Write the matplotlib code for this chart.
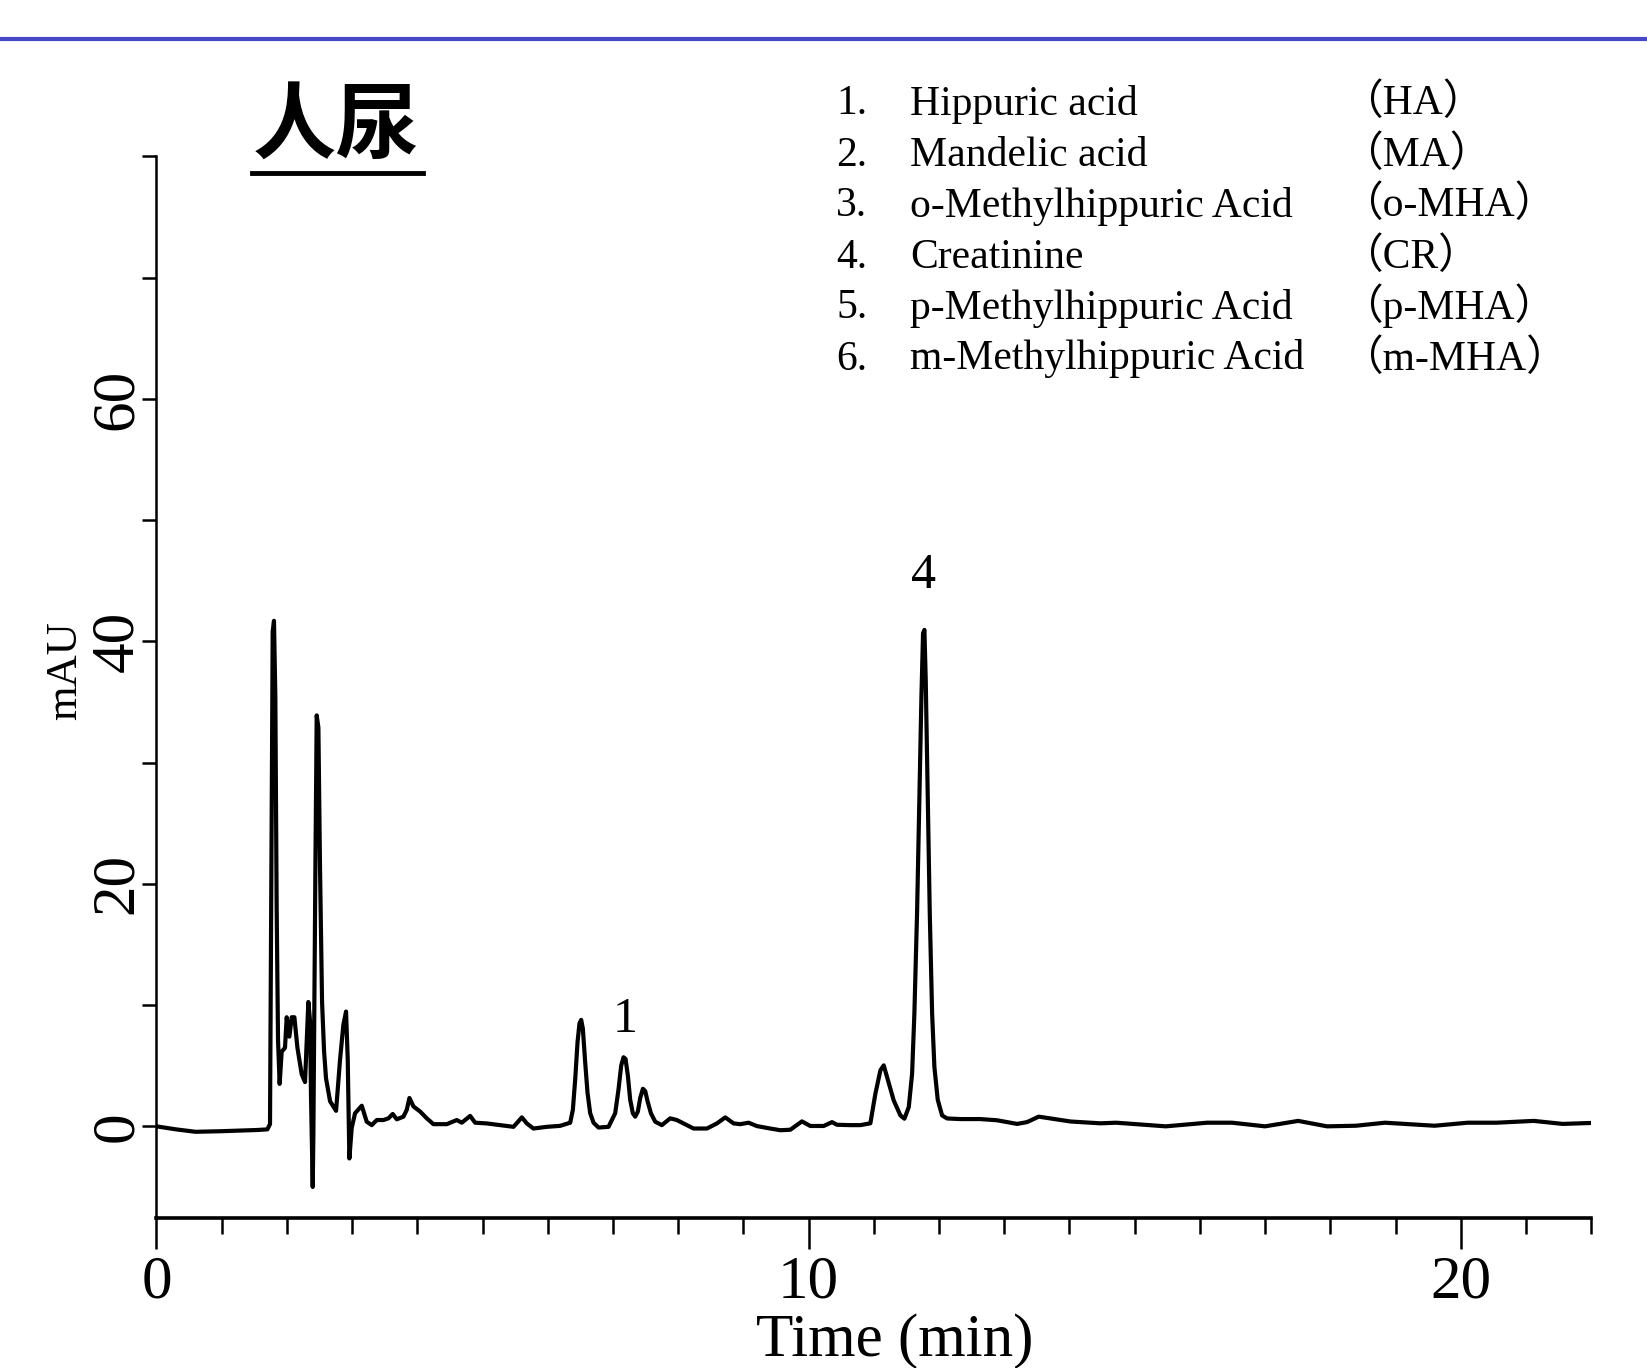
import matplotlib
matplotlib.use('Agg')
import matplotlib.pyplot as plt
from matplotlib.lines import Line2D

# chromatogram trace (min, mAU)
time_min = [0.0, 0.3, 0.6, 1.0, 1.3, 1.55, 1.70, 1.741, 1.762, 1.782, 1.802, 1.823, 1.843, 1.864, 1.889,
            1.920, 1.971, 1.997, 2.038, 2.074, 2.115, 2.161, 2.227, 2.278, 2.329, 2.355, 2.370, 2.396, 2.406,
            2.437, 2.457, 2.483, 2.508, 2.539, 2.570, 2.600, 2.662, 2.754, 2.815, 2.866, 2.907, 2.933, 2.958,
            2.994, 3.045, 3.148, 3.224, 3.301, 3.378, 3.480, 3.557, 3.623, 3.685, 3.787, 3.838, 3.879, 3.941,
            4.043, 4.145, 4.247, 4.452, 4.605, 4.682, 4.810, 4.887, 5.066, 5.270, 5.475, 5.603, 5.679, 5.781,
            5.986, 6.190, 6.344, 6.385, 6.421, 6.457, 6.487, 6.513, 6.538, 6.574, 6.610, 6.651, 6.702, 6.779,
            6.932, 7.034, 7.085, 7.126, 7.162, 7.193, 7.229, 7.264, 7.305, 7.341, 7.382, 7.418, 7.459, 7.495,
            7.531, 7.582, 7.648, 7.750, 7.878, 7.980, 8.083, 8.236, 8.441, 8.594, 8.722, 8.850, 8.952, 9.080,
            9.208, 9.412, 9.566, 9.72, 9.898, 10.026, 10.231, 10.359, 10.435, 10.64, 10.794, 10.947, 11.024,
            11.101, 11.152, 11.203, 11.305, 11.408, 11.469, 11.536, 11.587, 11.622, 11.663, 11.694, 11.730,
            11.755, 11.776, 11.796, 11.827, 11.858, 11.894, 11.929, 11.980, 12.047, 12.124, 12.328, 12.634,
            12.89, 13.197, 13.35, 13.529, 13.708, 14.015, 14.475, 14.717, 15.477, 16.111, 16.492, 16.999,
            17.507, 17.95, 18.393, 18.838, 19.599, 20.106, 20.55, 21.12, 21.564, 22.0]
signal_mau = [0.0, -0.25, -0.45, -0.4, -0.35, -0.3, -0.25, 0.18, 21.3, 40.8, 41.7, 35.4, 18.1, 7.1, 3.5,
              6.16, 6.48, 9.0, 7.4, 9.0, 9.0, 6.5, 4.3, 3.65, 10.26, 8.7, 2.4, -5.0, -0.76,
              21.3, 33.9, 32.9, 21.3, 10.3, 6.2, 3.96, 2.07, 1.28, 5.5, 8.37, 9.47, 5.5, -2.65,
              -0.13, 1.08, 1.70, 0.38, 0.1, 0.52, 0.52, 0.66, 1.02, 0.58, 0.8, 1.36, 2.34, 1.64,
              1.22, 0.66, 0.18, 0.18, 0.52, 0.3, 0.86, 0.3, 0.24, 0.1, -0.04, 0.74, 0.24, -0.18,
              -0.04, 0.04, 0.3, 1.36, 3.88, 6.96, 8.5, 8.78, 8.08, 5.28, 2.76, 1.08, 0.3, -0.1,
              -0.04, 1.08, 3.04, 5.0, 5.7, 5.56, 4.16, 2.2, 1.08, 0.8, 1.22, 2.34, 3.1, 2.9,
              2.06, 1.08, 0.38, 0.1, 0.66, 0.52, 0.24, -0.18, -0.18, 0.24, 0.74, 0.24, 0.18, 0.3,
              0.02, -0.18, -0.32, -0.28, 0.41, 0.03, 0.03, 0.35, 0.13, 0.10, 0.1, 0.25, 2.69,
              4.62, 5.03, 4.07, 2.14, 0.9, 0.63, 1.59, 4.34, 9.3, 17.56, 25.8, 35.45,
              40.68, 40.95, 36.83, 27.19, 17.56, 9.3, 4.89, 2.2, 0.9, 0.65, 0.6, 0.6,
              0.5, 0.2, 0.35, 0.8, 0.65, 0.4, 0.25, 0.3, 0.0, 0.3, 0.3, 0.0,
              0.45, 0.0, 0.05, 0.3, 0.05, 0.3, 0.3, 0.45, 0.2, 0.28]

peak_labels = ['1', '4']
peak_label_t = [7.19, 11.765]
peak_label_v = [8.8, 45.4]

x_major = [0, 10, 20]
y_major = [0, 20, 40, 60]
y_minor = [10, 30, 50, 70, 80]

compound_nums = ['1.', '2.', '3.', '4.', '5.', '6.']
compound_names = ['Hippuric acid', 'Mandelic acid', 'o-Methylhippuric Acid', 'Creatinine',
                  'p-Methylhippuric Acid', 'm-Methylhippuric Acid']
compound_abbr = ['（HA）', '（MA）', '（o-MHA）', '（CR）', '（p-MHA）', '（m-MHA）']

serif = ['Liberation Serif', 'Noto Sans CJK SC']

fig = plt.figure(figsize=(16.47, 13.68), dpi=100)
ax = fig.add_axes([0.0950, 0.1093, 0.8711, 0.7763])

ax.plot(time_min, signal_mau, color='black', lw=3.0, solid_joinstyle='round')
ax.set_xlim(0, 22)
ax.set_ylim(-7.6, 80)

for s in ['top', 'right']:
    ax.spines[s].set_visible(False)
ax.spines['left'].set_linewidth(1.8)
ax.spines['bottom'].set_linewidth(2.6)

ax.set_xticks(x_major)
ax.set_xticks(range(0, 23), minor=True)
ax.set_xticklabels([str(v) for v in x_major], family=serif, fontsize=44)
ax.tick_params(axis='x', which='major', direction='out', length=22, width=1.8, pad=4)
ax.tick_params(axis='x', which='minor', direction='out', length=11.5, width=1.8)

ax.set_yticks(y_major)
ax.set_yticks(y_minor, minor=True)
ax.set_yticklabels([str(v) for v in y_major], family=serif, fontsize=44, rotation=90, va='center')
ax.tick_params(axis='y', which='both', direction='out', length=10, width=1.8, pad=-2)

for lab, t, v in zip(peak_labels, peak_label_t, peak_label_v):
    ax.text(t, v, lab, family=serif, fontsize=36, ha='center', va='center')

fig.text(0.0395, 0.510, 'mAU', family=serif, fontsize=32, rotation=90, ha='center', va='center')
fig.text(0.543, 0.009, 'Time (min)', family=serif, fontsize=44, ha='center', va='baseline')

# title with underline
fig.text(0.204, 0.907, '人尿', family=['Noto Sans CJK SC', 'DejaVu Sans'], fontsize=60,
         weight='bold', ha='center', va='center')
fig.add_artist(Line2D([0.153, 0.257], [0.8735, 0.8735], color='black', lw=3.5))

# blue rule across the top
fig.add_artist(Line2D([0, 1], [0.9715, 0.9715], color='#4848c8', lw=3))

# compound list
row_y = [114.5, 165.5, 216.5, 267.5, 318.5, 369.5]
for i in range(len(compound_names)):
    y = 1 - row_y[i] / 1368
    fig.text(0.5076, y, compound_nums[i], family=serif, fontsize=30, va='baseline')
    fig.text(0.5525, y, compound_names[i], family=serif, fontsize=30, va='baseline')
    fig.text(0.814, y, compound_abbr[i], family=serif, fontsize=30, va='baseline')

fig.savefig('out.png', dpi=100, facecolor='white')
